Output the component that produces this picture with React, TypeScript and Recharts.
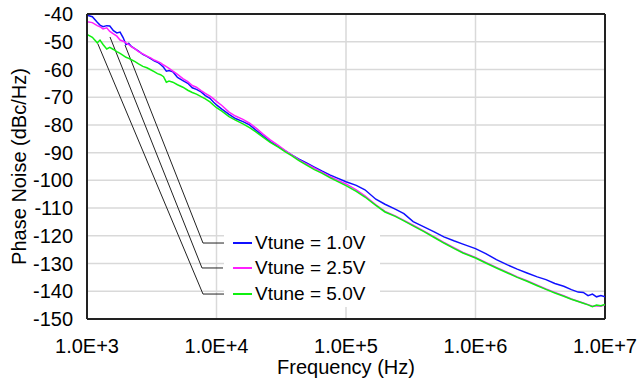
import { LineChart, Line, XAxis, YAxis, CartesianGrid, ReferenceLine, Label } from 'recharts';

// Frequency points (Hz)
const freqs = [
  1000, 1100, 1200, 1260, 1330, 1420, 1500, 1600, 1700, 1800, 1900, 2000, 2100, 2200, 2350, 2500, 2700, 2900,
  3100, 3300, 3500, 3700, 3900, 4100, 4300, 4600, 5000, 5500, 6000, 6500, 7000, 7600, 8200, 8900, 9500,
  10000, 11000, 12500, 14000, 16000, 18000, 20000, 23000, 26000, 30000, 34000, 38000, 43000, 50000, 57000,
  65000, 75000, 85000, 100000, 120000, 140000, 170000, 200000, 240000, 280000, 330000, 400000, 480000,
  570000, 680000, 800000, 1e6, 1.2e6, 1.45e6, 1.75e6, 2.1e6, 2.5e6, 3e6, 3.5e6, 4.1e6, 4.8e6, 5.5e6,
  6.2e6, 6.8e6, 7.4e6, 8e6, 8.6e6, 9.3e6, 1e7,
];

// Phase noise (dBc/Hz) per tuning voltage
const vtune10 = [
  -40.4, -41.0, -43.0, -44.0, -44.6, -44.2, -44.3, -46.0, -46.8, -46.5, -48.5, -51.0, -50.6, -51.7, -52.6, -53.4, -54.6, -55.3,
  -56.1, -56.9, -57.4, -58.2, -59.2, -60.6, -60.4, -60.8, -62.9, -64.0, -65.0, -66.6, -67.2, -68.1, -69.4, -70.4, -71.8,
  -72.8, -74.3, -76.2, -77.7, -78.8, -80.0, -81.8, -84.0, -86.0, -87.8, -89.4, -90.8, -92.3, -93.8, -95.2,
  -96.6, -98.0, -99.1, -100.5, -101.8, -103.4, -106.8, -108.6, -110.4, -112.0, -114.9, -116.8, -118.6,
  -120.4, -121.8, -123.0, -124.6, -126.4, -128.6, -130.4, -132.0, -133.4, -134.8, -135.8, -137.2, -138.2, -139.4,
  -140.3, -140.4, -141.6, -141.0, -142.0, -141.5, -142.0,
];
const vtune25 = [
  -42.8, -43.1, -44.2, -44.6, -45.4, -45.0, -46.3, -47.2, -48.0, -49.4, -49.8, -50.4, -51.0, -51.8, -52.6, -53.6, -54.4, -55.2,
  -55.8, -56.6, -57.1, -57.6, -58.4, -59.0, -59.6, -60.6, -61.8, -63.3, -64.4, -65.8, -66.4, -67.6, -68.6, -69.6, -70.6,
  -71.5, -73.0, -75.4, -76.8, -78.0, -79.4, -81.0, -83.4, -85.4, -87.4, -89.3, -90.8, -92.5, -94.2, -95.6,
  -97.0, -98.6, -99.8, -101.3, -103.4, -105.6, -108.8, -111.2, -112.8, -114.4, -116.2, -118.3, -120.4,
  -122.4, -124.3, -126.0, -127.8, -129.6, -131.4, -133.1, -134.8, -136.2, -137.8, -139.2, -140.4, -141.6, -142.8,
  -143.6, -144.2, -144.8, -145.4, -145.2, -145.4, -144.8,
];
const vtune50 = [
  -47.4, -48.4, -50.4, -49.4, -51.0, -52.6, -52.0, -52.8, -53.6, -54.2, -54.9, -55.6, -56.0, -56.5, -57.2, -58.0, -58.9, -59.4,
  -60.1, -60.8, -61.5, -61.9, -62.6, -64.6, -64.2, -64.6, -65.5, -66.4, -67.5, -68.3, -68.9, -69.8, -70.6, -71.7, -72.9,
  -73.8, -75.0, -77.0, -78.3, -79.6, -81.0, -82.4, -84.5, -86.3, -88.0, -89.7, -91.1, -92.8, -94.6, -96.1,
  -97.4, -99.0, -100.3, -101.9, -104.0, -106.0, -109.0, -111.4, -113.0, -114.6, -116.4, -118.5, -120.6,
  -122.6, -124.5, -126.2, -128.0, -129.8, -131.6, -133.3, -135.0, -136.4, -138.0, -139.3, -140.6, -141.8, -142.9,
  -143.7, -144.3, -144.9, -145.6, -145.0, -145.2, -144.8,
];

const seriesNames = ['Vtune = 1.0V', 'Vtune = 2.5V', 'Vtune = 5.0V'];
const seriesKeys = ['v10', 'v25', 'v50'];
const seriesColors = ['#1010ff', '#ff20ff', '#10f010'];

const xTicks = [1e3, 1e4, 1e5, 1e6, 1e7];
const yTicks = [-150, -140, -130, -120, -110, -100, -90, -80, -70, -60, -50, -40];

// leader lines from each curve down to its legend entry: [start, bend, end]
const leaders = [
  [{ x: 1965, y: -51.2 }, { x: 7865, y: -122.6 }, { x: 11427, y: -122.6 }],
  [{ x: 1505, y: -48.3 }, { x: 7727, y: -131.6 }, { x: 11227, y: -131.6 }],
  [{ x: 1209, y: -50.6 }, { x: 7865, y: -141.0 }, { x: 11427, y: -141.0 }],
];

const data = freqs.map((f, i) => ({ f, v10: vtune10[i], v25: vtune25[i], v50: vtune50[i] }));

const font = '"Liberation Sans", Arial, sans-serif';

function LegendBox() {
  return (
    <div
      style={{
        position: 'absolute', left: 224, top: 230, width: 156,
        background: '#fff', fontFamily: font, fontSize: 19, color: '#000',
      }}
    >
      {seriesNames.map((n, i) => (
        <div key={n} style={{ display: 'flex', alignItems: 'center', height: 25.5 }}>
          <span style={{ display: 'inline-block', width: 19, height: 2, background: seriesColors[i], marginLeft: 9, marginRight: 3 }} />
          <span style={{ whiteSpace: 'nowrap' }}>{n}</span>
        </div>
      ))}
    </div>
  );
}

export default function App() {
  return (
    <div style={{ position: 'absolute', left: 0, top: 0, width: 640, height: 381, background: '#fff' }}>
      <LineChart width={640} height={381} data={data} margin={{ top: 14, right: 35, bottom: 0, left: 0 }}>
        <CartesianGrid stroke="#d9d9d9" strokeWidth={1.5} />
        <XAxis
          dataKey="f"
          type="number"
          scale="log"
          domain={[1e3, 1e7]}
          ticks={xTicks}
          interval={0}
          allowDataOverflow
          height={62}
          tickSize={0}
          tickMargin={20}
          tickFormatter={(v: number) => v.toExponential(1).toUpperCase()}
          tick={{ fill: '#000', fontSize: 20, fontFamily: font }}
          axisLine={{ stroke: '#222', strokeWidth: 2 }}
        >
          <Label
            content={(p: any) => (
              <text x={p.viewBox.x + p.viewBox.width / 2} y={374} textAnchor="middle" fontSize={20} fontFamily={font} fill="#000">
                Frequency (Hz)
              </text>
            )}
          />
        </XAxis>
        <YAxis
          type="number"
          domain={[-150, -40]}
          ticks={yTicks}
          interval={0}
          width={87}
          tickSize={0}
          tickMargin={14}
          tick={{ fill: '#000', fontSize: 20, fontFamily: font }}
          axisLine={{ stroke: '#222', strokeWidth: 2 }}
        >
          <Label
            content={(p: any) => (
              <text
                x={26}
                y={p.viewBox.y + p.viewBox.height / 2}
                transform={`rotate(-90 26 ${p.viewBox.y + p.viewBox.height / 2})`}
                textAnchor="middle"
                fontSize={20}
                fontFamily={font}
                fill="#000"
              >
                Phase Noise (dBc/Hz)
              </text>
            )}
          />
        </YAxis>
        <ReferenceLine y={-40} stroke="#222" strokeWidth={2} />
        <ReferenceLine x={1e7} stroke="#222" strokeWidth={2} />
        {leaders.map((pts, i) => (
          <ReferenceLine key={'a' + i} segment={[pts[0], pts[1]]} stroke="#222" strokeWidth={1} />
        ))}
        {leaders.map((pts, i) => (
          <ReferenceLine key={'b' + i} segment={[pts[1], pts[2]]} stroke="#222" strokeWidth={1} />
        ))}
        {seriesKeys.map((k, i) => (
          <Line
            key={k}
            dataKey={k}
            name={seriesNames[i]}
            stroke={seriesColors[i]}
            strokeWidth={1.5}
            dot={false}
            type="linear"
            isAnimationActive={false}
          />
        ))}
      </LineChart>
      <LegendBox />
    </div>
  );
}
